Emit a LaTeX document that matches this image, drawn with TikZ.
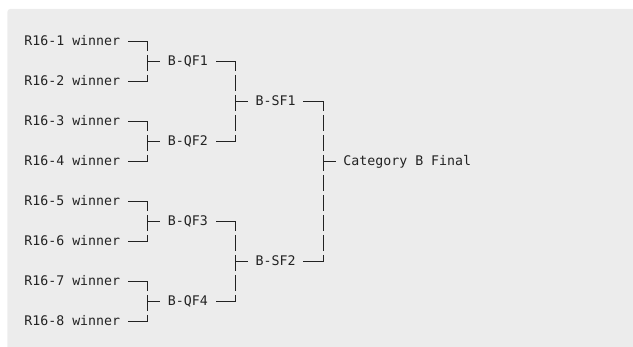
\documentclass[tikz,border=0pt]{standalone}
\usepackage{fontspec}
\setmonofont{DejaVu Sans Mono}
\usetikzlibrary{calc}
\definecolor{ink}{HTML}{222222}
\definecolor{panel}{HTML}{ECECEC}

\begin{document}
\begin{tikzpicture}[x=7.977pt, y=-20pt,
      every node/.style={font=\ttfamily\fontsize{13.25}{20}\selectfont, text=ink,
        anchor=west, inner xsep=7.977pt, inner ysep=0pt,
        text height=10.6pt, text depth=2.46pt},
      tick/.style={draw=ink, line width=1.1pt, line cap=rect},
      rail/.style={draw=ink, line width=1.1pt,
        dash pattern=on 15.8pt off 4.2pt, dash phase=6.8pt}]

  % panel
  \useasboundingbox (-24.2pt,41.7pt) rectangle (608.8pt,-305.3pt);
  \fill[panel, rounded corners=3pt] (-16.9pt,32.7pt) rectangle (616pt,-312pt);

  % round of 16
  \node (r1) at (-1,0) {R16-1 winner};
  \node (r2) at (-1,2) {R16-2 winner};
  \node (r3) at (-1,4) {R16-3 winner};
  \node (r4) at (-1,6) {R16-4 winner};
  \node (r5) at (-1,8) {R16-5 winner};
  \node (r6) at (-1,10) {R16-6 winner};
  \node (r7) at (-1,12) {R16-7 winner};
  \node (r8) at (-1,14) {R16-8 winner};

  % quarter finals
  \node (qf1) at (17,1) {B-QF1};
  \node (qf2) at (17,5) {B-QF2};
  \node (qf3) at (17,9) {B-QF3};
  \node (qf4) at (17,13) {B-QF4};

  % semi finals and final
  \node (sf1) at (28,3) {B-SF1};
  \node (sf2) at (28,11) {B-SF2};
  \node (fin) at (39,6) {Category B Final};

  % junctions
  \coordinate (jq1) at (15.5,1);
  \coordinate (jq2) at (15.5,5);
  \coordinate (jq3) at (15.5,9);
  \coordinate (jq4) at (15.5,13);
  \coordinate (js1) at (26.5,3);
  \coordinate (js2) at (26.5,11);
  \coordinate (jf) at (37.5,6);

  % R16 -> QF
  \draw[tick] (r1.east) -- (r1.east -| jq1) (r2.east) -- (r2.east -| jq1) (jq1) -- (qf1.west);
  \draw[rail] (r1.east -| jq1) -- (r2.east -| jq1);
  \draw[tick] (r3.east) -- (r3.east -| jq2) (r4.east) -- (r4.east -| jq2) (jq2) -- (qf2.west);
  \draw[rail] (r3.east -| jq2) -- (r4.east -| jq2);
  \draw[tick] (r5.east) -- (r5.east -| jq3) (r6.east) -- (r6.east -| jq3) (jq3) -- (qf3.west);
  \draw[rail] (r5.east -| jq3) -- (r6.east -| jq3);
  \draw[tick] (r7.east) -- (r7.east -| jq4) (r8.east) -- (r8.east -| jq4) (jq4) -- (qf4.west);
  \draw[rail] (r7.east -| jq4) -- (r8.east -| jq4);

  % QF -> SF
  \draw[tick] (qf1.east) -- (qf1.east -| js1) (qf2.east) -- (qf2.east -| js1) (js1) -- (sf1.west);
  \draw[rail] (qf1.east -| js1) -- (qf2.east -| js1);
  \draw[tick] (qf3.east) -- (qf3.east -| js2) (qf4.east) -- (qf4.east -| js2) (js2) -- (sf2.west);
  \draw[rail] (qf3.east -| js2) -- (qf4.east -| js2);

  % SF -> final
  \draw[tick] (sf1.east) -- (sf1.east -| jf) (sf2.east) -- (sf2.east -| jf) (jf) -- (fin.west);
  \draw[rail] (sf1.east -| jf) -- (sf2.east -| jf);
\end{tikzpicture}
\end{document}
